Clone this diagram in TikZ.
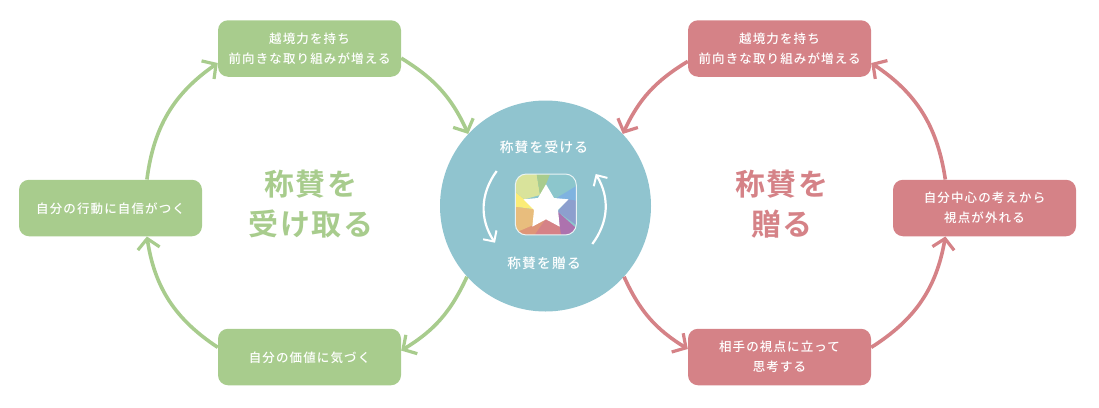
\documentclass[tikz,border=0pt]{standalone}
\usepackage{fontspec}
\setmainfont{Noto Sans CJK JP}
\newfontfamily\boxfont[LetterSpace=9]{Noto Sans CJK JP Medium}
\newfontfamily\titlefont[LetterSpace=6]{Noto Sans CJK JP Bold}
\usetikzlibrary{arrows.meta}
\definecolor{leafgreen}{HTML}{A8CC8D}
\definecolor{rosered}{HTML}{D58287}
\definecolor{hubteal}{HTML}{90C4CF}
\definecolor{iconteal}{HTML}{8CC6CC}
\definecolor{iconblue}{HTML}{7FB3E0}
\definecolor{iconperi}{HTML}{8D9FCE}
\definecolor{iconpurple}{HTML}{AD72AE}
\definecolor{iconsalmon}{HTML}{DE9578}
\definecolor{iconorange}{HTML}{E8BD7D}
\definecolor{iconyellow}{HTML}{FBEC77}
\definecolor{iconolive}{HTML}{D9E39B}
\tikzset{
    stepbox/.style={rounded corners=10pt,minimum width=183pt,minimum height=56.5pt,inner sep=0pt,
        align=center,text=white,font=\boxfont\fontsize{12.5}{20}\selectfont,
        execute at begin node={\rule{0pt}{13pt}}},
    flow/.style={line width=3.6pt,-{Straight Barb[length=10pt,width=22pt,line width=3.2pt]}},
    bigtitle/.style={align=center,font=\titlefont\fontsize{30}{40}\selectfont},
    hubtext/.style={text=white,font=\boxfont\fontsize{13.7}{16}\selectfont},
    turn/.style={white,line width=2.2pt,-{Straight Barb[length=8pt,width=16pt,line width=2pt]}}
}
\begin{document}
\begin{tikzpicture}[x=1pt,y=-1pt]
    \useasboundingbox (0,0) rectangle (1099,407);
    % centre
    \node[circle,fill=hubteal,minimum size=211pt,inner sep=0pt] (hub) at (545.5,206) {};
    \node[hubtext] (hubtop) at (544,147) {称賛を受ける};
    \node[hubtext] (hubbot) at (544,263) {称賛を贈る};
    % icon
    \begin{scope}[shift={(476,160)},x=0.3333pt,y=-0.3333pt]
        \begin{scope}
            \clip[rounded corners=11pt] (118,42) rectangle (301,225);
            \fill[iconteal] (118,42) rectangle (301,225);
            \fill[iconblue] (301,78) -- (301,124) -- (235,118) -- cycle;
            \fill[iconperi] (301,122) -- (301,195) -- (245,155) -- (275,118) -- cycle;
            \fill[iconpurple] (245,155) -- (301,205) -- (280,225) -- (250,225) -- (250,195) -- cycle;
            \fill[rosered] (255,225) -- (250,195) -- (210,175) -- (172,198) -- (178,225) -- cycle;
            \fill[iconsalmon] (118,212) -- (210,175) -- (172,230) -- (118,230) -- cycle;
            \fill[iconorange] (118,140) -- (175,148) -- (172,195) -- (125,215) -- (118,215) -- cycle;
            \fill[iconyellow] (118,95) -- (178,148) -- (118,140) -- cycle;
            \fill[iconolive] (118,42) -- (182,42) -- (192,105) -- (145,118) -- (118,95) -- cycle;
            \fill[leafgreen] (182,42) -- (222,42) -- (205,85) -- (192,105) -- cycle;
        \end{scope}
        \draw[white!80!hubteal,line width=1pt,rounded corners=11pt] (118,42) rectangle (301,225);
        % star
        \fill[white] (210,73) -- (234,114) -- (278,118) -- (246,150) -- (251,200) -- (210,178)
            -- (169,200) -- (174,150) -- (142,118) -- (186,114) -- cycle;
    \end{scope}
    \coordinate (leftfrom) at (496.7,171);
    \coordinate (leftto) at (495,242.7);
    \coordinate (rightfrom) at (592.3,244);
    \coordinate (rightto) at (595.7,174);
    \draw[turn] (leftfrom) to[bend right=35] (leftto);
    \draw[turn] (rightfrom) to[bend right=34] (rightto);
    % left loop
    \node[stepbox,fill=leafgreen] (gtop) at (309.5,48.5) {越境力を持ち\\前向きな取り組みが増える};
    \node[stepbox,fill=leafgreen] (gleft) at (110.5,208) {自分の行動に自信がつく};
    \node[stepbox,fill=leafgreen] (gbot) at (309.5,357) {自分の価値に気づく};
    \node[bigtitle,text=leafgreen] (gtitle) at (311,204) {称賛を\\受け取る};
    \draw[flow,leafgreen] (gtop.-6) to[bend left=17] (hub.137);
    \draw[flow,leafgreen] (hub.-138) to[bend left=17] (gbot.4);
    \draw[flow,leafgreen] (gbot.174) to[bend left=24] (gleft.-38);
    \draw[flow,leafgreen] (gleft.38) to[bend left=24] (gtop.189);
    % right loop
    \node[stepbox,fill=rosered] (rtop) at (779.5,48.5) {越境力を持ち\\前向きな取り組みが増える};
    \node[stepbox,fill=rosered] (rright) at (984.5,208) {自分中心の考えから\\視点が外れる};
    \node[stepbox,fill=rosered] (rbot) at (779.5,357) {相手の視点に立って\\思考する};
    \node[bigtitle,text=rosered] (rtitle) at (782,204) {称賛を\\贈る};
    \draw[flow,rosered] (rtop.188) to[bend right=17] (hub.43);
    \draw[flow,rosered] (hub.-42) to[bend right=17] (rbot.175);
    \draw[flow,rosered] (rbot.6) to[bend right=24] (rright.-144);
    \draw[flow,rosered] (rright.144) to[bend right=24] (rtop.-9);
\end{tikzpicture}
\end{document}
